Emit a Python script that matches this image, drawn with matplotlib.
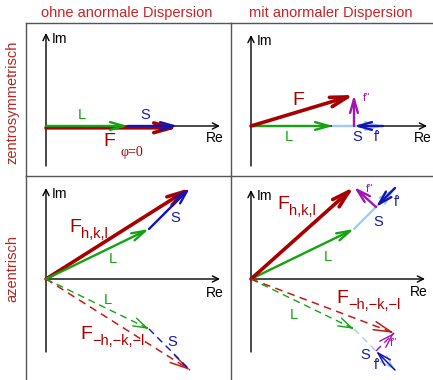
import numpy as np
import matplotlib.pyplot as plt

plt.rcParams['font.family'] = ['Liberation Sans', 'DejaVu Sans']

# structure factor contributions (complex plane, arbitrary units)
# centrosymmetric case: light atoms L, heavy atom S, anomalous parts f', f''
L_zs = np.array([8.2, 0.0])
S_zs = np.array([5.0, 0.0])
fp_zs = np.array([-2.9, 0.0])
fpp_zs = np.array([0.0, 3.1])

# acentric case, reflection h,k,l
L_az = np.array([10.3, 5.0])
S_az = np.array([4.1, 4.1])
fp_az = np.array([-1.9, -1.9])
fpp_az = np.array([-2.2, 2.0])
# Friedel mate -h,-k,-l
L_azm = np.array([10.3, -5.0])
S_azm = np.array([4.1, -4.1])
fp_azm = np.array([-1.9, 1.9])
fpp_azm = np.array([1.8, 1.8])

col_titles = ['ohne anormale Dispersion', 'mit anormaler Dispersion']
row_titles = ['zentrosymmetrisch', 'azentrisch']
idx_plus = 'h,k,l'
idx_minus = '\u2212h,\u2212k,\u2212l'

RED = '#a80000'
RED_D = '#c41a1a'
GREEN = '#13a313'
BLUE = '#1414b4'
LBLUE = '#9fcdf0'
MAG = '#a414b4'
TXT_RED = '#cc2222'

W, H = 433, 380
fig = plt.figure(figsize=(W / 100, H / 100), dpi=100)


def cell(x0, y0, x1, y1, ox, oy):
    ax = fig.add_axes([x0 / W, 1 - y1 / H, (x1 - x0) / W, (y1 - y0) / H])
    ax.set_xlim((x0 - ox) / 10, (x1 - ox) / 10)
    ax.set_ylim((oy - y1) / 10, (oy - y0) / 10)
    ax.set_xticks([])
    ax.set_yticks([])
    ax.patch.set_alpha(0)
    for s in ['right', 'bottom']:
        ax.spines[s].set_visible(False)
    for s in ['left', 'top']:
        ax.spines[s].set_color('#555555')
        ax.spines[s].set_linewidth(1.0)
    return ax


def arrow(ax, tail, vec, color, lw, hl=0.7, hw=0.2, z=3):
    tail = np.asarray(tail, float)
    ax.annotate('', xy=tail + vec, xytext=tail,
                arrowprops=dict(arrowstyle=f'->,head_length={hl},head_width={hw}',
                                color=color, lw=lw, shrinkA=0, shrinkB=0,
                                mutation_scale=14), zorder=z)


def dashed(ax, tail, vec, color, lw=1.0, head=True, hl=0.7, hw=0.22, z=3):
    tail = np.asarray(tail, float)
    tip = tail + vec
    ax.plot([tail[0], tip[0]], [tail[1], tip[1]], color=color, lw=lw,
            ls=(0, (5, 3.5)), zorder=z, solid_capstyle='butt')
    if head:
        arrow(ax, tip - 0.02 * vec, 0.02 * vec, color, lw, hl, hw, z)


def axes_cross(ax, im_bot, im_top, re_end):
    ax.annotate('', xy=(0, im_top), xytext=(0, im_bot),
                arrowprops=dict(arrowstyle='->', color='black', lw=1.0,
                                shrinkA=0, shrinkB=0, mutation_scale=11), zorder=1)
    ax.annotate('', xy=(re_end, 0), xytext=(0, 0),
                arrowprops=dict(arrowstyle='->', color='black', lw=1.0,
                                shrinkA=0, shrinkB=0, mutation_scale=11), zorder=1)


def f_label(ax, x, y, sub):
    t = ax.text(x, y, 'F', color=RED, fontsize=14, ha='left', va='baseline')
    ax.annotate(sub, xy=(1.0, 0.12), xycoords=t, color=RED, fontsize=10.5,
                ha='left', va='center')


ax_tl = cell(26, 23, 231, 176, 46, 126)
ax_tr = cell(231, 23, 433, 176, 251, 126)
ax_bl = cell(26, 176, 231, 380, 46, 279)
ax_br = cell(231, 176, 433, 380, 251, 279)

# titles
fig.text(127 / W, 1 - 13 / H, col_titles[0], color=TXT_RED, fontsize=10.5,
         ha='center', va='center')
fig.text(331 / W, 1 - 13 / H, col_titles[1], color=TXT_RED, fontsize=10.5,
         ha='center', va='center')
fig.text(12 / W, 1 - 102 / H, row_titles[0], color='#b02828', fontsize=10.5,
         rotation=90, ha='center', va='center')
fig.text(12 / W, 1 - 268 / H, row_titles[1], color='#b02828', fontsize=10.5,
         rotation=90, ha='center', va='center')

for ax, bot, top, re in [(ax_tl, -4.0, 9.3, 17.4), (ax_tr, -4.0, 9.1, 17.6),
                         (ax_bl, -7.3, 9.1, 17.4), (ax_br, -7.3, 8.9, 17.4)]:
    axes_cross(ax, bot, top, re)
    ax.text(0.6, top - 0.6, 'Im', fontsize=10, ha='left', va='center')

ax_tl.text(16.9, -1.2, 'Re', fontsize=10, ha='center', va='center')
ax_tr.text(17.2, -1.2, 'Re', fontsize=10, ha='center', va='center')
ax_bl.text(16.9, -1.4, 'Re', fontsize=10, ha='center', va='center')
ax_br.text(16.8, -1.3, 'Re', fontsize=10, ha='center', va='center')

# --- top left: centrosymmetric, no anomalous dispersion
O = np.zeros(2)
F_tl = L_zs + S_zs
arrow(ax_tl, O + [0, -0.18], F_tl, RED, 2.6, hl=0.9, hw=0.25, z=2)
arrow(ax_tl, O, L_zs, GREEN, 1.7, z=3)
arrow(ax_tl, L_zs, S_zs, BLUE, 1.7, z=3)
ax_tl.text(3.6, 1.1, 'L', color=GREEN, fontsize=10.5, ha='center', va='center')
ax_tl.text(9.9, 1.1, 'S', color=BLUE, fontsize=10.5, ha='center', va='center')
ax_tl.text(6.3, -1.5, 'F', color=RED, fontsize=14, ha='center', va='center')
ax_tl.text(8.6, -2.6, 'φ=0', color=RED, fontsize=10, ha='center', va='center',
           family=['Liberation Serif', 'DejaVu Serif'])

# --- top right: centrosymmetric, anomalous dispersion
F_tr = L_zs + S_zs + fp_zs + fpp_zs
arrow(ax_tr, L_zs, S_zs, LBLUE, 1.7, z=2)
arrow(ax_tr, O, L_zs, GREEN, 1.7, z=3)
arrow(ax_tr, L_zs + S_zs, fp_zs, BLUE, 1.7, z=4)
arrow(ax_tr, L_zs + S_zs + fp_zs, fpp_zs, MAG, 1.7, z=4)
arrow(ax_tr, O, F_tr, RED, 2.6, hl=0.9, hw=0.25, z=3)
ax_tr.text(4.7, 2.6, 'F', color=RED, fontsize=14, ha='center', va='center')
ax_tr.text(3.8, -1.1, 'L', color=GREEN, fontsize=10.5, ha='center', va='center')
ax_tr.text(10.6, -1.1, 'S', color=BLUE, fontsize=10.5, ha='center', va='center')
ax_tr.text(12.6, -1.1, "f'", color=BLUE, fontsize=10, ha='center', va='center')
ax_tr.text(11.6, 2.8, "f''", color=MAG, fontsize=8, ha='center', va='center')

# --- bottom left: acentric, no anomalous dispersion
F_bl = L_az + S_az
arrow(ax_bl, O, F_bl, RED, 2.6, hl=0.9, hw=0.25, z=2)
arrow(ax_bl, O, L_az, GREEN, 1.7, z=3)
arrow(ax_bl, L_az, S_az, BLUE, 1.7, z=3)
Fm_bl = L_azm + S_azm
dashed(ax_bl, O, Fm_bl, RED_D, 1.1, hl=0.9)
dashed(ax_bl, O, L_azm, GREEN, 1.0)
dashed(ax_bl, L_azm, S_azm, BLUE, 1.0, head=False)
f_label(ax_bl, 2.3, 4.7, idx_plus)
ax_bl.text(6.7, 2.0, 'L', color=GREEN, fontsize=10.5, ha='center', va='center')
ax_bl.text(12.9, 6.1, 'S', color=BLUE, fontsize=10.5, ha='center', va='center')
ax_bl.text(6.2, -2.1, 'L', color=GREEN, fontsize=10.5, ha='center', va='center')
f_label(ax_bl, 3.4, -6.0, idx_minus)
ax_bl.text(12.6, -6.3, 'S', color=BLUE, fontsize=10.5, ha='center', va='center')

# --- bottom right: acentric, anomalous dispersion
F_br = L_az + S_az + fp_az + fpp_az
arrow(ax_br, L_az, S_az, LBLUE, 1.7, z=2)
arrow(ax_br, O, L_az, GREEN, 1.7, z=3)
arrow(ax_br, L_az + S_az, fp_az, BLUE, 1.7, z=4)
arrow(ax_br, L_az + S_az + fp_az, fpp_az, MAG, 1.7, z=4)
arrow(ax_br, O, F_br, RED, 2.6, hl=0.9, hw=0.25, z=3)
Fm_br = L_azm + S_azm + fp_azm + fpp_azm
dashed(ax_br, L_azm, S_azm, LBLUE, 1.0, head=True, z=2)
dashed(ax_br, O, L_azm, GREEN, 1.0)
arrow(ax_br, L_azm + S_azm, fp_azm, BLUE, 1.1, z=4)
dashed(ax_br, L_azm + S_azm + fp_azm, fpp_azm, MAG, 1.0, z=4)
dashed(ax_br, O, Fm_br, RED_D, 1.1, hl=0.9)
f_label(ax_br, 2.6, 7.0, idx_plus)
ax_br.text(11.9, 9.0, "f''", color=MAG, fontsize=8, ha='center', va='center')
ax_br.text(14.6, 7.7, "f'", color=BLUE, fontsize=10, ha='center', va='center')
ax_br.text(12.7, 5.7, 'S', color=BLUE, fontsize=10.5, ha='center', va='center')
ax_br.text(7.7, 2.2, 'L', color=GREEN, fontsize=10.5, ha='center', va='center')
f_label(ax_br, 8.5, -2.4, idx_minus)
ax_br.text(4.3, -3.6, 'L', color=GREEN, fontsize=10.5, ha='center', va='center')
ax_br.text(11.4, -7.6, 'S', color=BLUE, fontsize=10.5, ha='center', va='center')
ax_br.text(12.6, -8.6, "f'", color=BLUE, fontsize=10, ha='center', va='center')
ax_br.text(14.3, -6.4, "f''", color=MAG, fontsize=8, ha='center', va='center')

fig.savefig('out.png', dpi=100)
